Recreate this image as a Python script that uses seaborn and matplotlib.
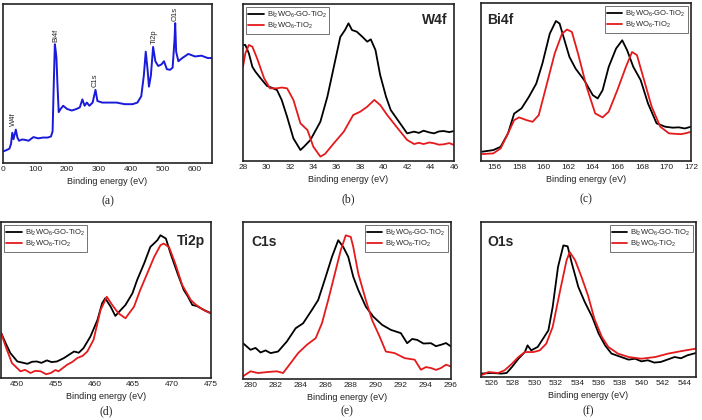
import numpy as np
import pandas as pd
import seaborn as sns
from matplotlib import pyplot as plt

# survey spectrum (a)
survey_x = [0, 10, 20, 25, 29, 33, 40, 45, 50, 60, 70, 80, 95, 110, 125, 140, 150, 155, 158, 162,
            165, 167, 170, 174, 180, 188, 200, 215, 230, 240, 248, 255, 262, 270, 280, 289, 295,
            310, 330, 355, 380, 405, 420, 432, 440, 446, 452, 456, 462, 469, 476, 485, 495, 503,
            512, 522, 530, 536, 538, 541, 548, 560, 579, 600, 620, 640, 653]
survey_y = [7.3, 8, 9, 12, 19, 15, 21, 16, 14, 14.8, 14.5, 14, 16.3, 15.5, 16, 16, 16.7, 20, 45, 74.7,
            70, 66, 50, 32, 34, 36, 34, 33, 34, 35, 40, 36, 38, 36, 38, 46, 39,
            38, 38, 38, 37, 37, 38, 42, 55, 70, 58, 48, 55, 73, 64, 61, 62, 64,
            59, 58.6, 60, 78, 88, 70, 64, 66, 68.6, 67, 67.5, 66, 66]
survey_peaks = ["W4f", "Bi4f", "C1s", "Ti2p", "O1s"]
survey_peak_x = [33, 164, 289, 472, 538]
survey_peak_y = [23, 76, 48, 75, 89]

# W4f (b)
w4f_go_x = [28, 28.2, 28.5, 28.8, 29.05, 29.5, 30.05, 30.5, 30.9, 31.3, 31.76, 32.3, 32.9, 33.2,
            33.75, 34.6, 35.2, 35.75, 36.3, 36.7, 37.0, 37.3, 37.7, 38.2, 38.6, 38.9, 39.3, 39.7,
            40.2, 40.6, 41.4, 42.0, 42.6, 43.0, 43.4, 43.9, 44.3, 44.7, 45.1, 45.6, 46]
w4f_go_y = [73.9, 73.9, 68.6, 60, 57, 52.7, 47.8, 46.5, 45.2, 38.9, 28.2, 14.4, 7, 9.1,
            13.4, 25, 41, 60, 79, 83.4, 87.7, 83.4, 82.4, 79, 76, 77.5, 70.7, 54.8,
            41, 32.5, 24, 17.6, 18.7, 17.9, 19.3, 18.2, 17.6, 18.8, 19.1, 18.4, 19.1]
w4f_ref_x = [28, 28.2, 28.5, 28.8, 29.2, 29.8, 30.3, 30.9, 31.3, 31.76, 32.3, 32.9, 33.5, 34.0,
             34.6, 35.0, 35.75, 36.6, 37.4, 38.0, 38.6, 39.2, 39.7, 40.3, 41.2, 42.0, 42.6,
             43.0, 43.4, 43.9, 44.3, 44.7, 45.1, 45.6, 46]
w4f_ref_y = [60, 68.6, 73.9, 72.8, 65.4, 52.7, 46.3, 46.3, 46.8, 46.3, 38.9, 24, 19.7, 9.1,
             2.8, 4.5, 11.3, 18.7, 29.3, 31.4, 34.6, 38.9, 35.7, 29.3, 20.8, 13.4, 10.8,
             11.6, 10.8, 11.8, 11.3, 10.4, 10.6, 11.4, 10.2]

# Bi4f (c)
bi4f_go_x = [155, 155.9, 156.5, 157.1, 157.6, 158.2, 158.8, 159.4, 159.9, 160.5, 161.0, 161.3,
             161.7, 162.1, 162.6, 163.3, 164.0, 164.4, 164.8, 165.3, 165.9, 166.4, 166.8,
             167.3, 167.9, 168.5, 169.2, 169.9, 170.5, 171.0, 171.5, 172]
bi4f_go_y = [5.9, 6.9, 9, 17.5, 30, 33.3, 40.6, 49, 61.7, 80.6, 88.6, 87,
             76.4, 65.9, 58.5, 51.2, 41.7, 39.6, 44.8, 59.6, 71.2, 76.4, 70.1,
             59.6, 51.2, 36.4, 23.8, 21.7, 21.1, 21.3, 20.6, 21.7]
bi4f_ref_x = [155, 155.9, 156.5, 157.1, 157.6, 158.0, 158.6, 159.1, 159.6, 160.2, 160.9, 161.5,
              161.9, 162.3, 162.8, 163.5, 164.2, 164.8, 165.3, 166.0, 166.7, 167.2, 167.6,
              168.1, 168.8, 169.5, 170.2, 170.7, 171.2, 171.6, 172]
bi4f_ref_y = [4.4, 4.8, 8, 17.5, 25.9, 27.6, 25.9, 24.8, 29, 46.9, 68, 80.6,
              83.2, 81.7, 68, 46.9, 30.1, 27.6, 31.2, 44.8, 59.6, 69, 67,
              53.3, 34.3, 21.7, 17.5, 17.2, 17, 17.6, 18.5]

# Ti2p (d)
ti2p_go_x = [448, 448.6, 449.2, 450.1, 450.8, 451.4, 452.0, 452.6, 453.2, 453.9, 454.5, 455.2,
             456.1, 456.8, 457.4, 458.0, 458.6, 459.5, 460.4, 461.0, 461.4, 462.1, 462.7, 463.4,
             464.0, 464.9, 465.5, 466.4, 467.2, 468.1, 468.5, 469.2, 469.8, 470.7, 471.5, 472.0,
             472.6, 473.2, 473.7, 474.3, 475]
ti2p_go_y = [29.1, 22.3, 16, 10.6, 9.8, 9.1, 10.4, 10.6, 9.7, 11.3, 10.2, 10.6,
             12.8, 15.1, 17, 16.2, 19.1, 26.6, 37.2, 47.9, 51.1, 45.7, 39.8, 43.6,
             46.8, 54.3, 62.8, 73.4, 84, 88.3, 91.5, 89.4, 79.8, 67, 56.4, 52.5,
             46.8, 46.1, 44.7, 43.1, 41.5]
ti2p_ref_x = [448, 448.6, 449.4, 450.5, 451.1, 451.8, 452.4, 453.1, 453.8, 454.4, 455.0, 455.4,
              456.5, 457.2, 457.8, 458.5, 459.1, 459.9, 460.8, 461.6, 462.3, 463.1, 464.0,
              465.1, 465.9, 466.8, 467.7, 468.5, 468.9, 469.6, 470.4, 471.3, 472.4, 473.0,
              473.7, 474.3, 475]
ti2p_ref_y = [29.1, 20.2, 9.6, 4.3, 5.2, 3.2, 4.6, 4.3, 2.4, 3.2, 5.1, 4.3,
              8.5, 10.4, 12.8, 14.2, 17, 24.5, 43.6, 52.1, 46.8, 41.5, 38.3,
              45.7, 56.4, 67, 77.7, 85.1, 86.2, 84, 73.4, 59.6, 50, 47.2,
              44.7, 42.9, 41.5]

# C1s (e)
c1s_go_x = [279.4, 280, 280.4, 280.8, 281.2, 281.6, 282.2, 282.9, 283.6, 284.2, 284.9, 285.4,
            286.0, 286.5, 287.0, 287.4, 287.8, 288.2, 288.6, 289.2, 289.8, 290.5, 291.2, 292.0,
            292.5, 292.9, 293.3, 293.8, 294.4, 294.8, 295.2, 295.6, 296]
c1s_go_y = [22.8, 18.6, 19.8, 16.9, 18.2, 16.5, 17.5, 23.9, 32.3, 35.5, 44, 50.3,
            65.1, 77.8, 88.4, 84.1, 77.8, 65.1, 56.7, 46.1, 39.7, 34.5, 31.3, 29.2,
            22.8, 25.5, 24.9, 22.6, 22.8, 20.9, 21.8, 22.9, 20.7]
c1s_ref_x = [279.4, 280, 280.6, 281.3, 282.1, 282.6, 283.2, 283.8, 284.5, 285.2, 285.7, 286.2,
             286.8, 287.2, 287.6, 288.0, 288.2, 288.6, 289.2, 289.7, 290.3, 290.8, 291.5,
             292.3, 293.1, 293.6, 294.0, 294.4, 294.8, 295.2, 295.6, 296]
c1s_ref_y = [1.7, 4.9, 3.8, 4.4, 4.9, 3.8, 10.1, 16.5, 21.8, 26, 35.5, 50.3,
             69.3, 82, 91.5, 90.5, 84.1, 67.2, 50.3, 37.6, 27.1, 17.5, 16.5,
             13.3, 12.3, 5.9, 7.6, 7, 5.8, 7, 9.1, 8]

# O1s (f)
o1s_go_x = [525, 526, 526.9, 527.4, 527.9, 528.5, 529.1, 529.35, 529.7, 530.3, 530.8, 531.3,
            531.7, 532.2, 532.7, 533.1, 533.5, 534.1, 534.7, 535.4, 536.0, 536.6, 537.2,
            538.1, 538.8, 539.4, 540.0, 540.6, 541.2, 541.8, 542.5, 543.1, 543.7, 544.3, 545.1]
o1s_go_y = [2.2, 2.6, 2.2, 2.6, 6.5, 11.8, 16.1, 20.4, 17.2, 19.4, 24.7, 30.1,
            45.2, 71, 84.9, 84.3, 73.1, 58.1, 48.4, 38.7, 28, 20.4, 15.1,
            12.9, 11.2, 11.8, 10.1, 10.8, 9.3, 9.7, 11.4, 12.9, 12.1, 14, 15.5]
o1s_ref_x = [525, 525.7, 526.6, 527.2, 527.9, 528.5, 529.1, 529.9, 530.5, 531.1, 531.7, 532.4,
             533.0, 533.3, 533.8, 534.4, 535.0, 535.6, 536.3, 536.9, 537.8, 538.8, 540.0,
             541.3, 542.5, 543.8, 545.1]
o1s_ref_y = [1.1, 3.2, 2.6, 4.3, 8.6, 12.9, 16.1, 16.1, 17.2, 21.5, 32.3, 55.9,
             75.3, 80.6, 75.3, 64.5, 52.7, 37.6, 25.8, 19.4, 15.1, 12.9, 11.8,
             12.9, 15.1, 16.8, 18.3]

series_names = [r"Bi$_2$WO$_6$-GO-TiO$_2$", r"Bi$_2$WO$_6$-TiO$_2$"]

sns.set_theme(style="white")
plt.rcParams["font.family"] = ["Liberation Sans", "DejaVu Sans"]
plt.rcParams["mathtext.fontset"] = "custom"
plt.rcParams["mathtext.rm"] = "Liberation Sans"
plt.rcParams["mathtext.it"] = "Liberation Sans"

fig = plt.figure(figsize=(7.02, 4.2), dpi=100)

# panel boxes in pixels: left, top, right, bottom
boxes = [(3, 4, 212, 163), (243, 4, 454, 161), (481, 3, 691, 161),
         (1, 222, 211, 378), (243, 222, 451, 379), (481, 222, 696, 377)]


def make_ax(box):
    l, t, r, b = box
    ax = fig.add_axes([l / 702, (420 - b) / 420, (r - l) / 702, (b - t) / 420])
    for s in ax.spines.values():
        s.set_color("#222222")
        s.set_linewidth(1.2)
    ax.set_yticks([])
    ax.tick_params(axis="x", direction="in", length=2, labelsize=6, pad=2, colors="#222222")
    return ax


def spectra(ax, go_x, go_y, ref_x, ref_y):
    df = pd.concat([
        pd.DataFrame({"x": go_x, "y": go_y, "s": series_names[0]}),
        pd.DataFrame({"x": ref_x, "y": ref_y, "s": series_names[1]}),
    ])
    sns.lineplot(data=df, x="x", y="y", hue="s", palette=["black", "#e41a1c"],
                 sort=False, estimator=None, linewidth=1.3, ax=ax)
    ax.set_ylim(0, 100)
    ax.set_xlabel("Binding energy (eV)", fontsize=6.5, labelpad=3, color="#222222")
    ax.set_ylabel("")


def legend(ax, loc):
    leg = ax.legend(loc=loc, fontsize=5.5, frameon=True, fancybox=False, handlelength=2.0,
                    borderpad=0.3, labelspacing=0.2, handletextpad=0.4, borderaxespad=0.4)
    leg.get_frame().set_edgecolor("#333333")
    leg.get_frame().set_linewidth(0.6)


# (a) survey
ax = make_ax(boxes[0])
sns.lineplot(x=survey_x, y=survey_y, color="#1a1adb", linewidth=1.4, ax=ax)
ax.set_xlim(0, 653)
ax.set_ylim(0, 100)
ax.set_xticks([0, 100, 200, 300, 400, 500, 600])
for name, px, py in zip(survey_peaks, survey_peak_x, survey_peak_y):
    ax.text(px, py, name, rotation=90, ha="center", va="bottom", fontsize=5.5)
ax.set_xlabel("Binding energy (eV)", fontsize=6.5, labelpad=3, color="#222222")

# (b) W4f
ax = make_ax(boxes[1])
spectra(ax, w4f_go_x, w4f_go_y, w4f_ref_x, w4f_ref_y)
ax.set_xlim(28, 46)
ax.set_xticks(range(28, 47, 2))
legend(ax, "upper left")
ax.text(0.97, 0.9, "W4f", transform=ax.transAxes, ha="right", va="center",
        fontsize=10, fontweight="bold")

# (c) Bi4f
ax = make_ax(boxes[2])
spectra(ax, bi4f_go_x, bi4f_go_y, bi4f_ref_x, bi4f_ref_y)
ax.set_xlim(154.9, 172)
ax.set_xticks(range(156, 173, 2))
legend(ax, "upper right")
ax.text(0.03, 0.89, "Bi4f", transform=ax.transAxes, ha="left", va="center",
        fontsize=10, fontweight="bold")

# (d) Ti2p
ax = make_ax(boxes[3])
spectra(ax, ti2p_go_x, ti2p_go_y, ti2p_ref_x, ti2p_ref_y)
ax.set_xlim(448, 475)
ax.set_xticks(range(450, 476, 5))
legend(ax, "upper left")
ax.text(0.97, 0.88, "Ti2p", transform=ax.transAxes, ha="right", va="center",
        fontsize=10, fontweight="bold")

# (e) C1s
ax = make_ax(boxes[4])
spectra(ax, c1s_go_x, c1s_go_y, c1s_ref_x, c1s_ref_y)
ax.set_xlim(279.4, 296)
ax.set_xticks(range(280, 297, 2))
legend(ax, "upper right")
ax.text(0.04, 0.87, "C1s", transform=ax.transAxes, ha="left", va="center",
        fontsize=10, fontweight="bold")

# (f) O1s
ax = make_ax(boxes[5])
spectra(ax, o1s_go_x, o1s_go_y, o1s_ref_x, o1s_ref_y)
ax.set_xlim(525, 545.1)
ax.set_xticks(range(526, 545, 2))
legend(ax, "upper right")
ax.text(0.03, 0.87, "O1s", transform=ax.transAxes, ha="left", va="center",
        fontsize=10, fontweight="bold")

# panel letters under each plot
for box, letter in zip(boxes, "abcdef"):
    l, t, r, b = box
    y = min(b + 38, 411)
    fig.text((l + r) / 2 / 702, (420 - y) / 420, f"({letter})", ha="center", va="center",
             fontsize=8.5, family=["Liberation Serif", "DejaVu Serif"])

plt.savefig("out.png", dpi=100)
plt.close()
